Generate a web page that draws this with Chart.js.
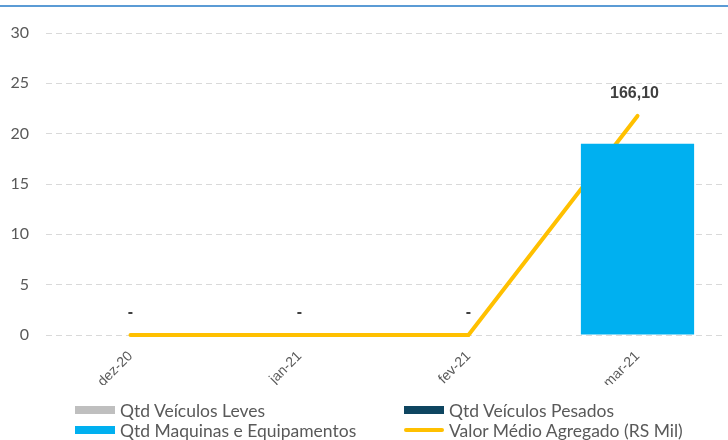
<!DOCTYPE html>
<html>
<head>
<meta charset="utf-8">
<script src="https://cdn.jsdelivr.net/npm/chart.js@4/dist/chart.umd.min.js"></script>
<style>
  html, body { margin: 0; padding: 0; background: #fff; }
  #wrap { position: relative; width: 728px; height: 440px; overflow: hidden; }
  #topline { position: absolute; left: 0; top: 5px; width: 728px; height: 2px; background: #5B9BD5; }
  #chart { position: absolute; left: 0; top: 0; }
  #legend { position: absolute; left: 75px; top: 399px; width: 650px; font-family: Lato, "Open Sans", sans-serif; font-size: 17.5px; color: #595959; }
  .item { position: absolute; display: flex; align-items: center; white-space: nowrap; height: 22px; }
  .sw { width: 40px; height: 8px; margin-right: 5px; }
  .ln { width: 40px; height: 4px; border-radius: 2px; margin-right: 5px; }
</style>
</head>
<body>
<div id="wrap">
  <div id="topline"></div>
  <canvas id="chart" width="728" height="440"></canvas>
  <div id="legend"></div>
</div>
<script>
const labels = ['dez-20', 'jan-21', 'fev-21', 'mar-21'];
const veiculosLeves = [0, 0, 0, 0];
const veiculosPesados = [0, 0, 0, 0];
const maquinas = [0, 0, 0, 19];
const valorMedio = [0, 0, 0, 166.10];
const yTicks = [0, 5, 10, 15, 20, 25, 30];

const colors = {
    leves: '#BFBFBF',
    pesados: '#0E4560',
    maquinas: '#00B0F0',
    valor: '#FFC000'
};

function fmtValor(v) {
    if (v === 0) return '-';
    return v.toFixed(2).replace('.', ',');
}

// rotulos da linha ("-" para zero)
const lineLabels = {
    id: 'lineLabels',
    afterDatasetsDraw(chart) {
        const ctx = chart.ctx;
        const meta = chart.getDatasetMeta(3);
        ctx.save();
        ctx.font = 'bold 16px "Liberation Sans Narrow", "Liberation Sans", Arial, sans-serif';
        ctx.fillStyle = '#404040';
        ctx.textAlign = 'center';
        ctx.textBaseline = 'middle';
        meta.data.forEach((pt, i) => {
            const dx = valorMedio[i] === 0 ? 0 : -3;
            ctx.fillText(fmtValor(valorMedio[i]), pt.x + dx, pt.y - 22);
        });
        ctx.restore();
    }
};

new Chart(document.getElementById('chart'), {
    data: {
        labels: labels,
        datasets: [
            { type: 'bar', label: 'Qtd Veículos Leves', data: veiculosLeves, backgroundColor: colors.leves, grouped: false, barPercentage: 0.67, categoryPercentage: 1, yAxisID: 'y' },
            { type: 'bar', label: 'Qtd Veículos Pesados', data: veiculosPesados, backgroundColor: colors.pesados, grouped: false, barPercentage: 0.67, categoryPercentage: 1, yAxisID: 'y' },
            { type: 'bar', label: 'Qtd Maquinas e Equipamentos', data: maquinas, backgroundColor: colors.maquinas, grouped: false, barPercentage: 0.67, categoryPercentage: 1, yAxisID: 'y' },
            { type: 'line', label: 'Valor Médio Agregado (RS Mil)', data: valorMedio, borderColor: colors.valor, borderWidth: 4, borderCapStyle: 'round', pointRadius: 0, tension: 0, clip: false, yAxisID: 'y1' }
        ]
    },
    options: {
        responsive: false,
        animation: false,
        layout: { padding: { top: 33, right: 6, bottom: 55, left: 0 } },
        plugins: {
            legend: { display: false },
            tooltip: { enabled: false }
        },
        scales: {
            x: {
                grid: { display: false },
                border: { display: false },
                ticks: {
                    minRotation: 45, maxRotation: 45,
                    color: '#595959',
                    padding: 5,
                    font: { family: '"Liberation Sans", Arial, sans-serif', size: 14 }
                },
                afterFit(axis) { axis.height = 50; }
            },
            y: {
                min: 0, max: 30,
                afterBuildTicks(axis) { axis.ticks = yTicks.map(v => ({ value: v })); },
                grid: { color: '#D9D9D9', lineWidth: 1, drawTicks: false },
                border: { display: false, dash: [6, 4] },
                ticks: {
                    padding: 17,
                    color: '#595959',
                    font: { family: 'Lato, sans-serif', size: 16 }
                },
                afterFit(axis) { axis.width = 46; }
            },
            y1: {
                display: false,
                min: 0, max: 229
            }
        }
    },
    plugins: [lineLabels]
});

const legendItems = [
    { text: 'Qtd Veículos Leves', color: colors.leves, kind: 'sw', x: 0, y: 0 },
    { text: 'Qtd Veículos Pesados', color: colors.pesados, kind: 'sw', x: 329, y: 0 },
    { text: 'Qtd Maquinas e Equipamentos', color: colors.maquinas, kind: 'sw', x: 0, y: 20 },
    { text: 'Valor Médio Agregado (RS Mil)', color: colors.valor, kind: 'ln', x: 329, y: 20 }
];
const legend = document.getElementById('legend');
legendItems.forEach(it => {
    const d = document.createElement('div');
    d.className = 'item';
    d.style.left = it.x + 'px';
    d.style.top = it.y + 'px';
    const s = document.createElement('span');
    s.className = it.kind;
    s.style.background = it.color;
    d.appendChild(s);
    d.appendChild(document.createTextNode(it.text));
    legend.appendChild(d);
});
</script>
</body>
</html>
